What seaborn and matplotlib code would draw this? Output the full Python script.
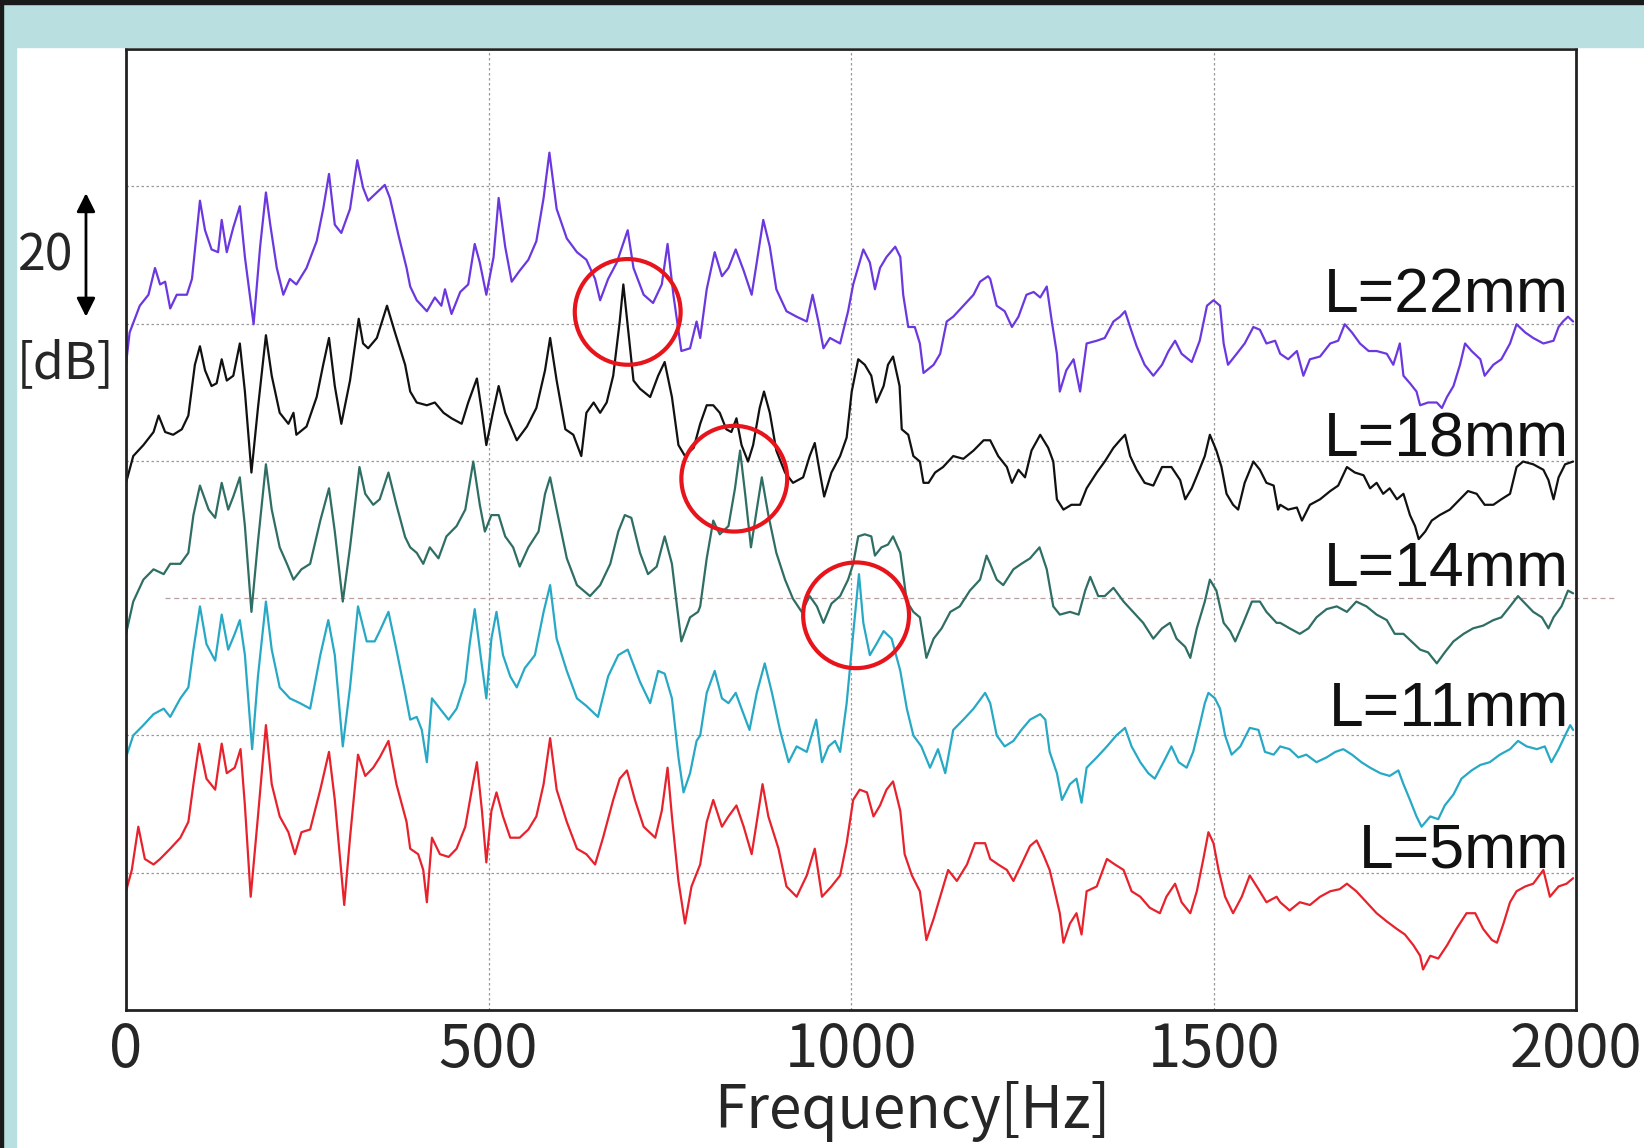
import matplotlib
matplotlib.use("Agg")
import matplotlib.pyplot as plt
import matplotlib.transforms as mtransforms
from matplotlib.patches import Ellipse, Rectangle
import numpy as np
import pandas as pd
import seaborn as sns

sns.set_style("white")
plt.rcParams["font.family"] = ["Noto Sans CJK JP", "DejaVu Sans"]

# Spectra, (Hz, dB) pairs, offset per tube length
spec_22 = [
    (0, 94.1), (5, 98.7), (19, 102.6), (31, 104.2), (40, 108.1), (47, 105.7), (54, 106.1), (61, 102.2),
    (70, 104.2), (84, 104.2), (91, 106.5), (102, 117.9), (109, 113.6), (118, 110.8), (127, 110.4),
    (132, 115.1), (139, 110.4), (148, 114.0), (157, 117.1), (164, 109.7), (176, 99.9), (185, 111.2),
    (193, 119.1), (199, 114.4), (208, 108.1), (217, 104.2), (226, 106.5), (235, 105.7), (249, 108.1),
    (263, 112.0), (272, 116.7), (280, 121.8), (288, 114.4), (297, 113.2), (309, 116.7), (319, 123.8),
    (327, 119.8), (334, 117.9), (346, 119.1), (357, 120.2), (364, 118.3), (376, 112.8), (387, 108.1),
    (392, 105.4), (401, 103.4), (415, 101.8), (426, 103.8), (435, 102.6), (440, 105.0), (449, 101.4),
    (461, 104.6), (472, 105.7), (481, 111.6), (488, 108.9), (497, 104.2), (507, 109.7), (514, 118.3),
    (523, 111.2), (532, 106.1), (543, 107.7), (555, 109.3), (566, 112.0), (576, 118.3), (584, 124.9),
    (594, 116.7), (608, 112.4), (622, 110.4), (635, 109.3), (647, 106.5), (654, 103.4), (665, 106.5),
    (677, 108.9), (692, 113.6), (700, 108.1), (714, 104.2), (727, 103.0), (739, 105.7), (747, 111.6),
    (755, 104.2), (766, 96.0), (778, 96.4), (787, 100.3), (792, 97.9), (801, 105.0), (812, 110.4),
    (822, 106.9), (831, 108.1), (841, 110.8), (852, 107.7), (863, 104.2), (870, 108.9), (879, 115.1),
    (888, 111.2), (897, 105.0), (911, 101.8), (925, 101.0), (939, 100.3), (947, 104.2), (955, 100.3),
    (962, 96.4), (971, 97.9), (985, 97.1), (996, 101.8), (1003, 105.7), (1017, 110.8), (1026, 108.9),
    (1033, 105.0), (1040, 108.1), (1049, 109.7), (1061, 111.2), (1068, 109.7), (1072, 104.2),
    (1079, 99.5), (1088, 99.5), (1095, 97.1), (1100, 92.8), (1114, 94.0), (1123, 95.6), (1132, 100.3),
    (1141, 101.0), (1155, 102.6), (1169, 104.2), (1178, 106.1), (1189, 106.9), (1192, 106.5),
    (1201, 102.6), (1212, 101.8), (1222, 99.5), (1231, 101.0), (1242, 104.2), (1252, 104.6),
    (1261, 103.8), (1270, 105.4), (1277, 100.3), (1284, 95.6), (1288, 90.1), (1297, 93.2), (1307, 94.8),
    (1316, 90.1), (1325, 97.1), (1339, 97.5), (1350, 97.9), (1362, 100.3), (1371, 101.0), (1378, 101.8),
    (1385, 99.5), (1394, 96.7), (1405, 94.0), (1417, 92.4), (1429, 94.0), (1438, 96.0), (1447, 97.5),
    (1456, 95.6), (1470, 94.4), (1481, 97.5), (1491, 102.6), (1500, 103.4), (1509, 102.6), (1514, 97.1),
    (1520, 94.0), (1532, 95.6), (1543, 97.1), (1555, 99.5), (1564, 99.1), (1573, 97.1), (1585, 97.5),
    (1592, 95.6), (1603, 94.8), (1615, 96.0), (1624, 92.4), (1633, 94.8), (1647, 95.2), (1661, 97.1),
    (1672, 97.5), (1681, 99.9), (1691, 98.7), (1702, 97.1), (1714, 96.0), (1725, 96.0), (1739, 95.6),
    (1748, 94.0), (1757, 97.1), (1762, 92.4), (1771, 91.3), (1780, 90.1), (1785, 88.1), (1796, 88.5),
    (1808, 88.5), (1815, 87.7), (1822, 89.3), (1831, 90.9), (1840, 94.0), (1847, 97.1), (1856, 96.0),
    (1868, 94.8), (1874, 92.4), (1886, 94.0), (1897, 94.8), (1909, 97.1), (1918, 99.9), (1930, 98.7),
    (1941, 97.9), (1955, 97.1), (1969, 97.5), (1976, 99.5), (1982, 100.3), (1989, 101.0), (1996, 100.3),
]

spec_18 = [
    (0, 76.8), (10, 80.7), (24, 82.3), (38, 84.2), (45, 86.6), (54, 84.2), (65, 83.8), (77, 84.6),
    (86, 86.6), (95, 94.0), (102, 96.7), (109, 93.2), (118, 90.9), (125, 91.3), (132, 94.8), (139, 91.7),
    (148, 92.4), (157, 97.1), (164, 90.1), (173, 78.3), (182, 87.7), (193, 98.3), (201, 92.4),
    (212, 87.0), (224, 85.4), (231, 87.0), (235, 83.8), (249, 85.0), (263, 89.3), (272, 94.0),
    (280, 97.9), (288, 90.9), (297, 85.4), (309, 91.7), (321, 100.7), (327, 97.1), (334, 96.4),
    (346, 97.9), (360, 102.6), (371, 98.7), (385, 94.0), (392, 90.1), (401, 88.5), (415, 88.1),
    (426, 88.5), (438, 87.0), (449, 86.2), (463, 85.4), (472, 88.5), (484, 92.0), (491, 87.0),
    (497, 82.3), (506, 87.0), (514, 90.9), (523, 87.0), (539, 83.0), (553, 85.0), (566, 87.7),
    (578, 93.2), (585, 97.9), (594, 91.7), (606, 84.6), (617, 83.8), (628, 80.7), (635, 87.0),
    (645, 88.5), (654, 87.0), (663, 88.5), (672, 92.4), (681, 100.3), (686, 105.7), (693, 98.7),
    (700, 91.7), (709, 90.5), (723, 89.3), (734, 92.4), (743, 94.4), (753, 89.3), (762, 82.3),
    (771, 80.7), (783, 81.9), (792, 85.4), (801, 88.1), (810, 88.1), (819, 87.0), (828, 84.6),
    (835, 84.2), (842, 86.2), (849, 82.3), (858, 79.9), (865, 82.3), (874, 87.7), (880, 90.1),
    (888, 87.0), (897, 81.5), (909, 78.3), (920, 76.8), (934, 77.6), (943, 80.7), (950, 82.6),
    (957, 78.3), (963, 74.8), (973, 78.3), (985, 80.7), (994, 83.4), (1001, 90.1), (1010, 94.8),
    (1019, 94.0), (1028, 92.4), (1035, 88.5), (1045, 90.9), (1051, 94.0), (1058, 95.2), (1067, 90.9),
    (1070, 84.6), (1079, 83.8), (1086, 80.7), (1095, 79.9), (1100, 76.8), (1107, 76.8), (1116, 78.3),
    (1127, 79.1), (1141, 80.7), (1155, 80.3), (1169, 81.5), (1183, 83.0), (1192, 83.0), (1203, 80.7),
    (1215, 79.1), (1222, 76.8), (1231, 78.7), (1240, 77.6), (1249, 81.5), (1261, 83.8), (1272, 81.9),
    (1279, 79.9), (1284, 74.4), (1293, 72.9), (1304, 73.6), (1316, 73.6), (1325, 76.0), (1339, 78.3),
    (1350, 79.9), (1362, 81.9), (1371, 83.0), (1378, 83.8), (1385, 80.7), (1394, 78.7), (1405, 76.8),
    (1417, 76.4), (1429, 79.1), (1442, 79.1), (1454, 77.2), (1461, 74.4), (1470, 76.0), (1479, 78.3),
    (1488, 80.7), (1495, 83.8), (1504, 81.5), (1511, 79.1), (1518, 75.2), (1527, 73.6), (1534, 72.9),
    (1543, 76.8), (1555, 79.9), (1564, 78.7), (1573, 76.8), (1583, 76.4), (1589, 72.9), (1592, 73.6),
    (1603, 72.9), (1615, 73.2), (1622, 71.3), (1633, 73.6), (1647, 74.4), (1661, 75.6), (1672, 76.4),
    (1684, 79.1), (1695, 78.3), (1707, 77.9), (1716, 76.0), (1725, 76.8), (1734, 75.2), (1743, 76.0),
    (1753, 74.4), (1762, 75.2), (1771, 72.1), (1778, 70.5), (1783, 68.6), (1792, 69.7), (1801, 71.3),
    (1812, 72.1), (1826, 72.9), (1840, 74.4), (1851, 75.6), (1863, 75.2), (1874, 73.6), (1886, 73.6),
    (1897, 74.4), (1909, 75.2), (1918, 79.1), (1927, 79.9), (1941, 79.5), (1955, 78.7), (1962, 77.2),
    (1969, 74.4), (1976, 77.6), (1985, 79.5), (1996, 79.9),
]

spec_14 = [
    (0, 54.8), (10, 59.5), (24, 62.7), (38, 64.2), (52, 63.5), (61, 65.0), (75, 65.0), (86, 66.6),
    (93, 72.1), (102, 76.4), (114, 72.9), (123, 71.7), (132, 76.8), (141, 72.9), (148, 74.8),
    (157, 77.6), (164, 70.5), (173, 58.0), (182, 68.2), (193, 79.5), (201, 72.9), (212, 67.4),
    (222, 65.0), (231, 62.7), (242, 64.2), (254, 65.0), (268, 71.3), (280, 76.0), (288, 69.7),
    (299, 59.5), (309, 67.4), (322, 79.1), (330, 75.2), (341, 73.6), (350, 74.4), (362, 78.3),
    (373, 73.6), (385, 68.9), (392, 67.4), (401, 66.6), (410, 65.0), (419, 67.4), (431, 65.8),
    (442, 69.0), (456, 70.5), (468, 72.9), (479, 79.9), (488, 73.6), (495, 69.7), (504, 72.1),
    (514, 72.1), (523, 69.0), (534, 67.4), (543, 64.6), (555, 67.4), (569, 69.7), (578, 75.2),
    (585, 77.6), (594, 72.9), (608, 65.8), (622, 61.9), (640, 60.3), (654, 61.9), (668, 65.0),
    (679, 69.7), (688, 72.1), (697, 71.7), (709, 66.6), (720, 63.5), (732, 64.6), (743, 69.0),
    (753, 65.0), (760, 58.8), (766, 53.7), (778, 57.2), (789, 58.0), (792, 58.8), (801, 65.8),
    (810, 71.3), (819, 69.3), (831, 70.5), (840, 76.0), (847, 81.5), (854, 75.2), (862, 67.4),
    (870, 72.9), (877, 77.6), (886, 72.1), (897, 66.6), (909, 62.7), (920, 59.9), (932, 58.0),
    (943, 60.3), (953, 58.8), (962, 56.4), (973, 59.2), (985, 60.3), (996, 62.7), (1003, 65.0),
    (1010, 69.0), (1019, 69.3), (1028, 69.0), (1033, 66.2), (1042, 67.4), (1051, 67.8), (1058, 69.0),
    (1068, 66.6), (1077, 59.5), (1086, 58.0), (1095, 57.2), (1104, 51.3), (1114, 54.1), (1125, 55.6),
    (1137, 58.0), (1150, 58.8), (1164, 61.1), (1178, 62.7), (1187, 66.2), (1192, 65.0), (1201, 62.7),
    (1210, 61.9), (1224, 64.2), (1235, 65.0), (1247, 65.8), (1260, 67.4), (1270, 64.2), (1279, 58.8),
    (1288, 57.6), (1302, 58.0), (1314, 57.6), (1323, 61.1), (1330, 63.1), (1341, 60.3), (1350, 60.3),
    (1362, 61.5), (1376, 59.5), (1389, 58.0), (1403, 56.4), (1417, 54.1), (1429, 55.6), (1440, 56.4),
    (1449, 54.1), (1461, 52.9), (1468, 51.3), (1477, 55.6), (1488, 59.5), (1495, 62.7), (1504, 61.1),
    (1514, 56.4), (1523, 55.2), (1530, 53.7), (1541, 56.4), (1553, 59.5), (1564, 59.5), (1573, 58.0),
    (1587, 56.4), (1592, 56.4), (1605, 55.6), (1619, 54.8), (1631, 55.6), (1642, 57.2), (1656, 58.4),
    (1670, 58.8), (1684, 58.0), (1697, 59.5), (1711, 58.8), (1725, 57.6), (1739, 56.8), (1750, 54.8),
    (1762, 54.8), (1773, 53.7), (1785, 52.5), (1796, 52.1), (1808, 50.5), (1819, 52.1), (1831, 53.7),
    (1845, 54.8), (1858, 55.6), (1872, 56.0), (1886, 56.8), (1897, 57.2), (1909, 58.8), (1920, 60.3),
    (1930, 59.2), (1941, 58.0), (1953, 57.2), (1962, 55.6), (1969, 57.2), (1980, 58.8), (1989, 61.1),
    (1996, 60.7),
]

spec_11 = [
    (0, 36.8), (10, 40.0), (24, 41.5), (38, 43.1), (52, 43.9), (61, 42.7), (75, 45.4), (86, 47.0),
    (93, 52.5), (102, 58.8), (111, 53.3), (123, 50.9), (132, 57.6), (141, 52.5), (150, 54.8),
    (157, 56.8), (164, 51.7), (174, 38.0), (182, 48.6), (193, 59.5), (201, 52.5), (212, 47.0),
    (226, 45.4), (240, 44.7), (254, 43.9), (268, 51.7), (279, 56.8), (288, 51.7), (299, 38.4),
    (309, 47.0), (320, 58.8), (332, 53.7), (343, 53.7), (350, 55.2), (362, 58.0), (373, 52.5),
    (385, 46.2), (392, 42.3), (401, 42.7), (408, 40.8), (415, 36.1), (422, 45.4), (433, 43.9),
    (445, 42.3), (456, 43.9), (468, 47.8), (474, 53.3), (481, 58.4), (489, 51.7), (497, 45.4),
    (504, 54.1), (511, 58.0), (520, 51.7), (530, 48.6), (539, 47.0), (550, 49.8), (564, 51.7),
    (576, 58.0), (585, 61.9), (594, 54.1), (608, 49.4), (622, 45.4), (635, 44.3), (651, 42.7),
    (665, 48.6), (679, 51.7), (692, 52.5), (709, 47.8), (723, 44.7), (734, 49.4), (743, 49.0),
    (753, 45.4), (762, 36.8), (769, 31.7), (778, 34.5), (787, 39.2), (792, 40.0), (801, 46.2),
    (812, 49.4), (822, 45.4), (831, 44.7), (841, 46.2), (849, 43.9), (860, 40.8), (870, 46.2),
    (881, 50.5), (891, 46.2), (902, 40.8), (914, 36.1), (925, 38.4), (939, 37.6), (952, 42.3),
    (960, 36.1), (969, 38.4), (978, 39.2), (985, 37.6), (994, 44.7), (1003, 54.8), (1011, 63.5),
    (1017, 56.4), (1026, 51.7), (1035, 53.3), (1045, 55.2), (1056, 54.1), (1068, 49.4), (1077, 43.9),
    (1086, 40.0), (1097, 38.4), (1109, 35.3), (1120, 38.0), (1130, 34.5), (1141, 40.8), (1155, 42.3),
    (1169, 43.9), (1185, 46.2), (1192, 44.7), (1201, 40.0), (1212, 38.4), (1224, 39.2), (1235, 40.8),
    (1247, 42.3), (1261, 43.1), (1268, 42.3), (1274, 37.6), (1284, 34.5), (1291, 30.6), (1302, 32.9),
    (1311, 33.7), (1318, 30.2), (1325, 35.3), (1339, 36.8), (1353, 38.4), (1366, 40.0), (1378, 41.1),
    (1387, 38.4), (1399, 36.1), (1410, 34.5), (1419, 33.7), (1431, 36.1), (1442, 38.4), (1452, 36.1),
    (1463, 35.3), (1472, 37.6), (1481, 41.5), (1488, 44.7), (1493, 46.2), (1502, 45.4), (1509, 43.9),
    (1516, 40.0), (1525, 37.2), (1537, 38.4), (1550, 41.1), (1562, 40.8), (1571, 37.6), (1583, 37.2),
    (1592, 38.4), (1605, 38.0), (1617, 36.8), (1628, 37.2), (1642, 36.1), (1656, 36.8), (1668, 37.6),
    (1679, 38.0), (1691, 37.2), (1704, 36.1), (1716, 35.3), (1730, 34.5), (1743, 34.1), (1755, 34.9),
    (1762, 32.9), (1771, 30.6), (1780, 28.2), (1787, 26.7), (1799, 28.2), (1810, 27.8), (1819, 29.8),
    (1831, 31.4), (1842, 33.7), (1856, 34.9), (1868, 35.7), (1881, 36.1), (1895, 37.2), (1909, 38.0),
    (1920, 39.2), (1932, 38.4), (1946, 38.0), (1957, 38.4), (1966, 36.1), (1976, 38.0), (1985, 40.0),
    (1992, 41.5), (1996, 40.8),
]

spec_5 = [
    (0, 17.3), (8, 20.4), (17, 26.7), (26, 22.0), (38, 21.2), (47, 22.0), (61, 23.5), (75, 25.1),
    (86, 27.4), (93, 32.9), (101, 38.8), (111, 33.7), (123, 32.1), (132, 38.8), (139, 34.5),
    (150, 35.3), (158, 38.0), (164, 29.8), (172, 16.5), (182, 28.2), (193, 41.5), (201, 32.9),
    (212, 28.2), (224, 25.9), (233, 22.7), (242, 25.9), (254, 26.3), (268, 32.1), (280, 37.6),
    (288, 30.6), (301, 15.3), (309, 25.1), (320, 37.2), (330, 34.1), (341, 35.3), (350, 36.8),
    (362, 39.2), (373, 32.9), (387, 27.4), (392, 23.5), (403, 22.7), (410, 20.4), (415, 15.7),
    (422, 25.1), (433, 22.7), (445, 22.3), (456, 23.5), (468, 26.7), (477, 32.1), (484, 36.1),
    (491, 29.0), (497, 21.5), (504, 29.0), (511, 31.7), (520, 28.2), (530, 25.1), (543, 25.1),
    (555, 26.3), (566, 28.2), (576, 32.9), (585, 39.6), (594, 32.1), (608, 27.4), (622, 23.5),
    (635, 22.7), (647, 21.2), (658, 25.1), (672, 30.6), (681, 33.7), (691, 34.9), (702, 30.6),
    (714, 26.7), (730, 25.1), (739, 29.0), (747, 35.3), (753, 28.2), (762, 18.8), (771, 12.6),
    (780, 18.0), (789, 20.4), (792, 21.2), (801, 27.4), (810, 30.6), (822, 26.7), (831, 28.2),
    (842, 29.8), (852, 26.7), (863, 22.7), (870, 27.4), (878, 32.9), (886, 28.2), (900, 23.5),
    (911, 18.0), (925, 16.5), (939, 19.6), (950, 23.5), (960, 16.5), (973, 18.0), (985, 19.6),
    (994, 24.3), (1003, 30.6), (1012, 32.1), (1022, 31.7), (1031, 28.2), (1040, 29.8), (1049, 32.1),
    (1058, 33.3), (1068, 29.0), (1074, 22.7), (1084, 19.6), (1095, 17.3), (1104, 10.2), (1114, 13.3),
    (1123, 16.5), (1134, 20.4), (1146, 18.8), (1160, 21.2), (1171, 24.3), (1185, 24.3), (1192, 22.0),
    (1203, 21.2), (1215, 20.4), (1224, 18.8), (1235, 21.2), (1247, 23.9), (1256, 24.7), (1265, 22.7),
    (1274, 20.4), (1281, 17.3), (1288, 14.1), (1293, 9.8), (1302, 12.6), (1311, 14.1), (1318, 11.0),
    (1325, 17.3), (1339, 18.0), (1353, 22.0), (1364, 21.2), (1376, 20.4), (1387, 17.3), (1399, 16.5),
    (1412, 14.9), (1426, 14.1), (1435, 16.5), (1447, 18.4), (1456, 15.7), (1468, 14.1), (1477, 17.3),
    (1486, 22.0), (1493, 25.9), (1500, 24.3), (1507, 20.4), (1516, 16.5), (1527, 14.1), (1539, 16.5),
    (1550, 19.6), (1562, 17.6), (1573, 15.7), (1587, 16.5), (1592, 15.7), (1605, 14.5), (1619, 15.7),
    (1633, 15.3), (1647, 16.5), (1661, 17.3), (1674, 17.6), (1684, 18.4), (1697, 17.3), (1711, 15.7),
    (1725, 14.1), (1739, 12.9), (1753, 11.8), (1764, 11.0), (1776, 9.4), (1785, 7.9), (1789, 5.9),
    (1799, 7.9), (1810, 7.5), (1822, 9.4), (1835, 11.8), (1849, 14.1), (1861, 14.1), (1872, 11.8),
    (1884, 10.2), (1891, 9.8), (1900, 12.6), (1909, 15.7), (1918, 17.3), (1930, 18.0), (1941, 18.4),
    (1955, 20.4), (1964, 16.5), (1976, 18.0), (1987, 18.4), (1996, 19.2),
]

series_names = ["L=22mm", "L=18mm", "L=14mm", "L=11mm", "L=5mm"]
series_colors = ["#6b38e0", "#111111", "#2f6e64", "#27a9c6", "#e8222c"]
label_levels = [101.7, 80.6, 61.8, 41.4, 20.7]   # baseline of each name tag
x_ticks = [0, 500, 1000, 1500, 2000]
grid_db = [20, 40, 80, 100, 120]
offset_line_db = 60
scale_bar_db = (101, 119)
# peaks marked with red rings
ring_hz = [692, 839, 1007]
ring_db = [101.7, 77.4, 57.5]

frames = []
for name, pts in zip(series_names, [spec_22, spec_18, spec_14, spec_11, spec_5]):
    arr = np.array(pts, dtype=float)
    frames.append(pd.DataFrame({"Frequency": arr[:, 0], "Level": arr[:, 1], "Length": name}))
df = pd.concat(frames, ignore_index=True)

W, H = 1644, 1148
fig = plt.figure(figsize=(W / 100, H / 100), dpi=100)
fig.patch.set_facecolor("white")

# slide frame: blue band on top, blue strip on the left
band = "#b9dfe1"
fig.patches.append(Rectangle((0, 1 - 47 / H), 1, 47 / H, transform=fig.transFigure,
                             color=band, zorder=0))
fig.patches.append(Rectangle((0, 0), 16 / W, 1, transform=fig.transFigure, color=band, zorder=0))
fig.patches.append(Rectangle((0, 1 - 4 / H), 1, 4 / H, transform=fig.transFigure,
                             color="#1a1a1a", zorder=1))
fig.patches.append(Rectangle((0, 0), 3 / W, 1, transform=fig.transFigure, color="#1a1a1a", zorder=1))

ax = fig.add_axes([126 / W, 1 - 1010 / H, 1450 / W, 961 / H])
ax.set_facecolor("white")

sns.lineplot(data=df, x="Frequency", y="Level", hue="Length",
             palette=dict(zip(series_names, series_colors)),
             estimator=None, sort=False, legend=False, lw=1.6, ax=ax)

ax.set_xlim(0, 2000)
ax.set_ylim(0, 140)
ax.set_xticks(x_ticks)
ax.set_yticks(grid_db)
ax.tick_params(axis="x", length=0, pad=7, labelsize=43)
ax.tick_params(axis="y", length=0, labelleft=False)
ax.grid(True, linestyle=(0, (2, 2)), color="#9a9a9a", lw=0.9)
ax.set_axisbelow(True)
for s in ax.spines.values():
    s.set_linewidth(2)
    s.set_color("#222222")

# the 60 dB reference line runs past the frame
ax.axhline(offset_line_db, xmin=0.027, xmax=1.028, clip_on=False,
           color="#b8a0a0", lw=0.9, ls=(0, (4, 3)), zorder=1)

ax.set_ylabel("")
ax.set_xlabel("Frequency[Hz]", fontsize=42)
ax.xaxis.set_label_coords(0.542, -0.074)

for name, lvl in zip(series_names, label_levels):
    ax.text(1990, lvl, name, ha="right", va="baseline", fontsize=45, color="#111111",
            fontfamily=["Liberation Sans", "DejaVu Sans"], zorder=4)

for hz, db in zip(ring_hz, ring_db):
    ax.add_patch(Ellipse((hz, db), width=146, height=15.4, fill=False,
                         ec="#e8141c", lw=3, zorder=5))

# 20 dB scale bar on the left
trans = mtransforms.blended_transform_factory(ax.transAxes, ax.transData)
ax.annotate("", xy=(-0.0276, scale_bar_db[1]), xytext=(-0.0276, scale_bar_db[0]),
            xycoords=trans, textcoords=trans, annotation_clip=False,
            arrowprops=dict(arrowstyle="<|-|>", color="black", lw=2,
                            mutation_scale=28, shrinkA=0, shrinkB=0))
ax.text(-0.0552, 109.7, "20", transform=trans, ha="center", va="center", fontsize=36)
ax.text(-0.0414, 94.1, "[dB]", transform=trans, ha="center", va="center", fontsize=36)

fig.savefig("out.png", dpi=100)
